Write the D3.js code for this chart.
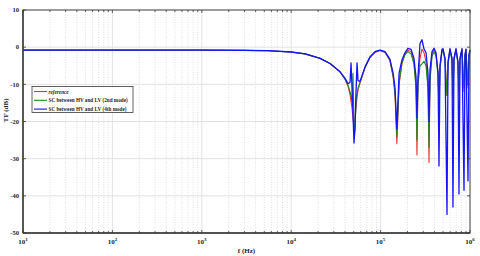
<!DOCTYPE html>
<html>
<head>
<meta charset="utf-8">
<script src="https://cdn.jsdelivr.net/npm/d3@7"></script>
<style>
  body { margin: 0; background: #fff; }
  text { font-family: "Liberation Serif", "Times New Roman", serif; font-weight: bold; fill: #262626; }
</style>
</head>
<body>
<div id="canvas"></div>
<script>
// frequency points (Hz) shared by the three curves
const freq = [10, 100, 1000, 3000, 5500, 10000, 14300, 21000, 27200, 35100,
  40000, 43200, 45500, 46700, 47900, 49100, 50400, 51700, 53100, 54500,
  55900, 58900, 67000, 76100, 86500, 98400, 112000, 127000, 138000, 145000,
  152000, 161000, 173000, 187000, 202000, 219000, 236000, 249000, 255000, 262000,
  276000, 290000, 306000, 322000, 339000, 348000, 357000, 376000, 396000, 417000,
  439000, 450000, 462000, 486000, 499000, 525000, 553000, 568000, 597000, 629000,
  645000, 662000, 697000, 734000, 753000, 773000, 814000, 857000, 879000, 902000,
  950000, 975000, 1000000];

const refDb = [-0.8, -0.8, -0.8, -0.85, -0.95, -1.3, -1.8, -3.0, -4.4, -6.6,
  -8.6, -10.5, -12.8, -14.5, -16.5, -19, -21.5, -20, -16, -13.5,
  -11.5, -9.6, -5.5, -2.8, -1.4, -0.9, -1.4, -3.6, -8, -13,
  -26, -10, -4.5, -2, -0.8, -1.2, -4, -10, -29, -9,
  -3, -0.5, -1.5, -4, -10, -31, -8, -1.8, -0.6, -2,
  -7, -18, -5, -0.8, -0.6, -3, -13, -4, -0.6, -3,
  -14, -3, -0.6, -4, -13, -3, -0.5, -12, -2, -0.6,
  -11, -2, -0.8];

const sc2Db = [-0.8, -0.8, -0.8, -0.85, -0.95, -1.3, -1.8, -3.0, -4.4, -6.6,
  -8.6, -10.3, -12, -13, -15, -7, -20, -22.5, -14, -12.5,
  -11, -9.4, -5.4, -2.7, -1.3, -0.85, -1.3, -3.4, -7.5, -12,
  -24, -9.5, -4.3, -2, -1.2, -1.8, -4.5, -11, -25, -10,
  -5, -4.5, -3.8, -5, -11, -27, -9, -2.5, -1.2, -2.5,
  -7.5, -15, -5.5, -1.2, -1, -3.5, -13, -4.5, -1, -3.5,
  -13, -3.5, -1, -4.5, -12, -3.5, -1, -11, -2.5, -1,
  -10, -2.5, -1.2];

const sc4Db = [-0.8, -0.8, -0.8, -0.85, -0.95, -1.3, -1.8, -3.0, -4.4, -6.6,
  -8.4, -9.8, -9.5, -4.2, -11, -18, -25.8, -22, -12, -4.2,
  -9, -9.2, -5.3, -2.6, -1.2, -0.8, -1.2, -3.2, -7, -11,
  -22, -7, -3.5, -1.5, -0.3, -0.6, -3, -8, -19, -8,
  1.0, 2.0, -0.5, -1.5, -7, -20, -6, -1.2, -0.3, -1.5,
  -7, -32, -5, -0.6, -0.4, -3, -45, -4, -0.4, -3,
  -43, -3, -0.4, -4, -39.5, -3, -0.4, -38.5, -2, -0.5,
  -36, -2, -0.7];

const seriesNames = ["reference", "SC between HV and LV (2nd mode)", "SC between HV and LV (4th mode)"];
const seriesColors = ["#ee3030", "#188c18", "#1414ff"];
const xTickExps = [1, 2, 3, 4, 5, 6];
const yTicks = [10, 0, -10, -20, -30, -40, -50];

const w = 480;
const h = 256;
const margin = {top: 10, right: 10, bottom: 23, left: 23};

const svg = d3.select("#canvas")
              .append("svg")
              .attr("width", w)
              .attr("height", h);

const x = d3.scaleLog()
            .domain([10, 1e6])
            .range([margin.left, w - margin.right]);

const y = d3.scaleLinear()
            .domain([-50, 10])
            .range([h - margin.bottom, margin.top]);

const x0 = margin.left, x1 = w - margin.right;
const y0 = h - margin.bottom, y1 = margin.top;

// minor positions 2..9 per decade
const minor = [];
xTickExps.slice(0, -1).forEach(e => {
  for (let k = 2; k <= 9; k++) minor.push(k * Math.pow(10, e));
});
const major = xTickExps.map(e => Math.pow(10, e));

const grid = svg.append("g");
grid.selectAll(".minor")
    .data(minor)
    .enter().append("line")
    .attr("x1", d => x(d)).attr("x2", d => x(d))
    .attr("y1", y0).attr("y2", y1)
    .attr("stroke", "#d8d8d8")
    .attr("stroke-width", 0.8)
    .attr("stroke-dasharray", "1,1.5");
grid.selectAll(".major")
    .data(major.slice(1, -1))
    .enter().append("line")
    .attr("x1", d => x(d)).attr("x2", d => x(d))
    .attr("y1", y0).attr("y2", y1)
    .attr("stroke", "#e2e2e2")
    .attr("stroke-width", 1);
grid.selectAll(".hgrid")
    .data(yTicks.slice(1, -1))
    .enter().append("line")
    .attr("x1", x0).attr("x2", x1)
    .attr("y1", d => y(d)).attr("y2", d => y(d))
    .attr("stroke", "#e2e2e2")
    .attr("stroke-width", 1);

// curves
const data = [refDb, sc2Db, sc4Db];
const line = d3.line()
               .x((d, i) => x(freq[i]))
               .y(d => y(d));

svg.append("g")
   .selectAll("path")
   .data(data)
   .enter().append("path")
   .attr("d", d => line(d))
   .attr("fill", "none")
   .attr("stroke", (d, i) => seriesColors[i])
   .attr("stroke-width", (d, i) => i == 2 ? 1.3 : 1.1)
   .attr("stroke-linejoin", "round");

// box and inward ticks
const ax = svg.append("g").attr("stroke", "#3a3a3a");
ax.append("rect")
  .attr("x", x0).attr("y", y1)
  .attr("width", x1 - x0).attr("height", y0 - y1)
  .attr("fill", "none").attr("stroke-width", 1);
ax.append("line").attr("x1", x0).attr("x2", x0).attr("y1", y1).attr("y2", y0).attr("stroke-width", 1.4);
ax.append("line").attr("x1", x0).attr("x2", x1).attr("y1", y0).attr("y2", y0).attr("stroke-width", 1.4);

ax.selectAll(".xt")
  .data(minor.concat(major))
  .enter().append("path")
  .attr("d", d => {
    const len = major.includes(d) ? 3 : 2;
    return "M" + x(d) + "," + y0 + "v" + (-len) + "M" + x(d) + "," + y1 + "v" + len;
  })
  .attr("stroke-width", 0.8);
ax.selectAll(".yt")
  .data(yTicks)
  .enter().append("path")
  .attr("d", d => "M" + x0 + "," + y(d) + "h3M" + x1 + "," + y(d) + "h-3")
  .attr("stroke-width", 0.8);

// tick labels
const xl = svg.append("g");
xl.selectAll("text")
  .data(xTickExps)
  .enter().append("text")
  .attr("x", d => x(Math.pow(10, d)))
  .attr("y", y0 + 11)
  .attr("text-anchor", "middle")
  .style("font-size", "7px")
  .each(function(d){
    const t = d3.select(this);
    t.append("tspan").text("10");
    t.append("tspan").attr("dy", -3).style("font-size", "5px").text(d);
  });

svg.append("g")
   .selectAll("text")
   .data(yTicks)
   .enter().append("text")
   .attr("x", x0 - 4)
   .attr("y", d => y(d) + 2.3)
   .attr("text-anchor", "end")
   .style("font-size", "6.5px")
   .text(d => d);

svg.append("text")
   .attr("x", (x0 + x1) / 2)
   .attr("y", h - 3)
   .attr("text-anchor", "middle")
   .style("font-size", "7px")
   .text("f (Hz)");

svg.append("text")
   .attr("transform", "translate(8," + (y(-17)) + ") rotate(-90)")
   .attr("text-anchor", "middle")
   .style("font-size", "7px")
   .text("TF (dB)");

// legend
const legend = svg.append("g");
legend.append("rect")
      .attr("x", 32).attr("y", 86.5)
      .attr("width", 101).attr("height", 26)
      .attr("fill", "#fff")
      .attr("stroke", "#3a3a3a")
      .attr("stroke-width", 0.8);
const rows = legend.selectAll(".row")
                   .data(seriesNames)
                   .enter().append("g")
                   .attr("transform", (d, i) => "translate(0," + (91.5 + i * 8.8) + ")");
rows.append("line")
    .attr("x1", 34).attr("x2", 47)
    .attr("y1", 0).attr("y2", 0)
    .attr("stroke", (d, i) => seriesColors[i])
    .attr("stroke-width", 1.1);
rows.append("text")
    .attr("x", 48.5)
    .attr("y", 2)
    .style("font-size", "5.2px")
    .style("font-style", (d, i) => i == 0 ? "italic" : "normal")
    .text(d => d);
</script>
</body>
</html>
